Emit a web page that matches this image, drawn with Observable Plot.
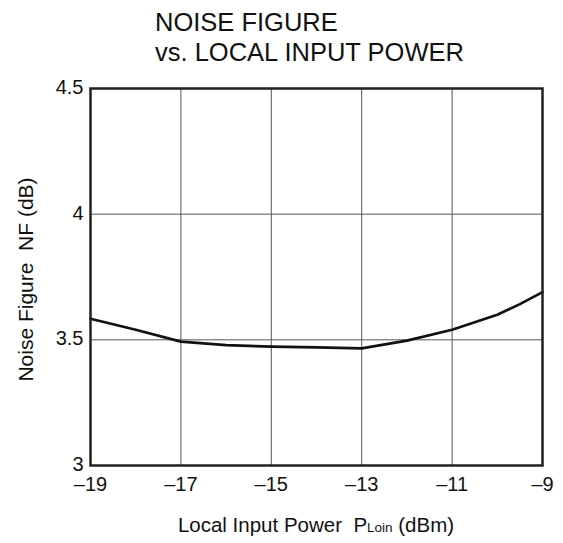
<!DOCTYPE html>
<html>
<head>
<meta charset="utf-8">
<script src="https://cdn.jsdelivr.net/npm/d3@7"></script>
<script src="https://cdn.jsdelivr.net/npm/@observablehq/plot@0.6"></script>
<style>
  body { margin: 0; background: #fff; font-family: "Liberation Sans", Arial, sans-serif; }
  #wrap { position: relative; width: 563px; height: 543px; overflow: hidden; }
  #title { position: absolute; left: 155px; top: 7px; font-size: 25.5px; line-height: 30px; color: #111; white-space: nowrap; }
  #xlabel { position: absolute; left: 0; width: 632px; text-align: center; top: 514px; font-size: 20.5px; line-height: 21px; color: #111; white-space: nowrap; }
  #xlabel .sub { font-size: 13.5px; }
  svg { position: absolute; left: 0; top: 0; }
</style>
</head>
<body>
<div id="wrap">
  <div id="chart"></div>
  <div id="title">NOISE FIGURE<br>vs. LOCAL INPUT POWER</div>
  <div id="xlabel">Local Input Power&nbsp; P<span class="sub">Loin</span> (dBm)</div>
</div>
<script>
const powerDbm = [-19, -18, -17, -16, -15, -14, -13, -12, -11, -10, -9.5, -9];
const noiseFigureDb = [3.584, 3.54, 3.493, 3.479, 3.473, 3.470, 3.466, 3.497, 3.54, 3.60, 3.642, 3.69];
const xTicks = [-19, -17, -15, -13, -11, -9];
const yTicks = [3, 3.5, 4, 4.5];

const data = powerDbm.map((x, i) => ({x, y: noiseFigureDb[i]}));
const fmtX = d => (d < 0 ? "\u2013" + Math.abs(d) : String(d));

const chart = Plot.plot({
  width: 563,
  height: 543,
  marginLeft: 90,
  marginRight: 21,
  marginTop: 88,
  marginBottom: 78,
  style: {fontFamily: "'Liberation Sans', Arial, sans-serif", fontSize: "20px", color: "#111", background: "transparent", overflow: "visible"},
  x: {domain: [-19, -9], label: null},
  y: {domain: [3, 4.5], label: null},
  marks: [
    Plot.gridX(xTicks, {stroke: "#555", strokeOpacity: 1, strokeWidth: 1}),
    Plot.gridY(yTicks, {stroke: "#555", strokeOpacity: 1, strokeWidth: 1}),
    Plot.axisX({ticks: xTicks, tickFormat: fmtX, tickSize: 0, tickPadding: 11, fontSize: 20, label: null}),
    Plot.axisY({ticks: yTicks, tickFormat: d => String(d), tickSize: 0, tickPadding: 7, fontSize: 20, dy: -1, label: null}),
    Plot.line(data, {x: "x", y: "y", stroke: "#111", strokeWidth: 2.7}),
    Plot.frame({stroke: "#222", strokeWidth: 2.5}),
    Plot.text(["Noise Figure\u00a0 NF (dB)"], {frameAnchor: "left", textAnchor: "middle", dx: -64, dy: 2.5, rotate: -90, fontSize: 21, fill: "#111", text: d => d})
  ]
});
document.getElementById("chart").appendChild(chart);
</script>
</body>
</html>
